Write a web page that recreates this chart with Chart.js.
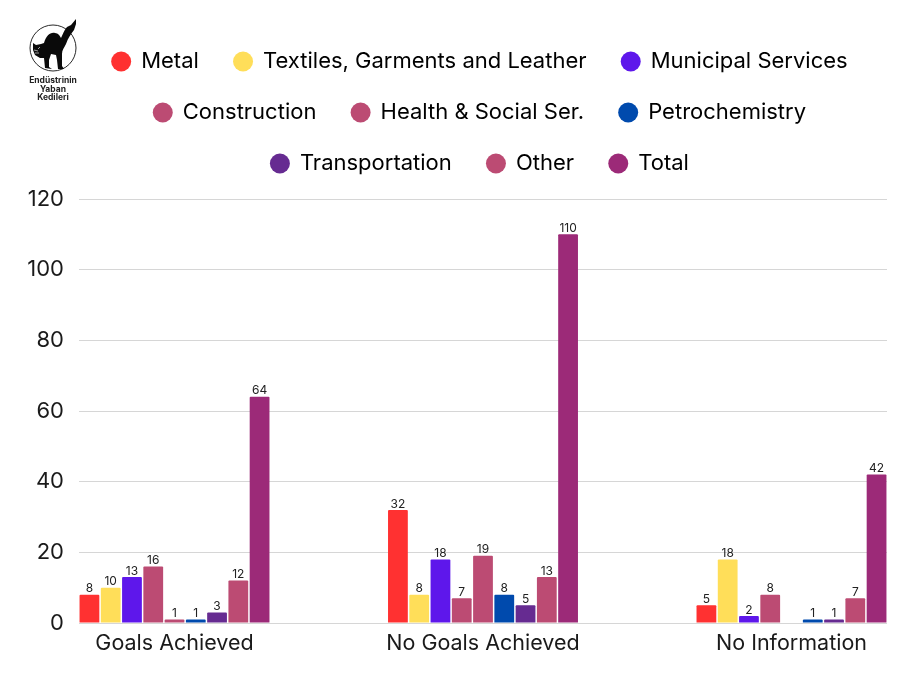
<!DOCTYPE html>
<html><head><meta charset="utf-8">
<script src="https://cdn.jsdelivr.net/npm/chart.js@4"></script>
<style>
html,body{margin:0;padding:0;background:#fff;width:910px;height:683px;overflow:hidden}
#wrap{position:relative;width:910px;height:683px}
canvas{position:absolute;left:0;top:0}
#logo{position:absolute;left:22px;top:16px;width:62px;text-align:center;font:700 8.5px/8.5px Inter,"Liberation Sans",sans-serif;color:#222}
#logo svg{display:block;position:absolute;left:0;top:0}
#logo div{position:absolute;left:0;right:0;top:60px}
</style></head><body><div id="wrap">
<canvas id="c" width="910" height="683"></canvas>
<div id="logo"><svg width="62" height="60" viewBox="22 16 62 60"><circle cx="53" cy="48" r="23" fill="#fff" stroke="#111" stroke-width="0.9"/><path fill="#0a0a0a" d="M33 43L36 45L41 44L44 43C46 36 50 32 55 33C58 33 60 36 61 38C63 34 64 30 67 27L71 25L76 19L76 24L74 30C71 34 68 38 66 44C64 48 62 50 62 54L62 66L64 69L58 69L57 60L56 55L51 54L49 60L49 67L52 69L45 68L44 58L40 58L35 55L33 50Z"/><path fill="none" stroke="#fff" stroke-width="0.6" d="M34 50L38 51M35 53L39 53M40 47L38 49"/></svg><div>Endüstrinin<br>Yaban<br>Kedileri</div></div>
</div>
<script>
const categories = ["Goals Achieved","No Goals Achieved","No Information"];
const metal = [8,32,5];
const textiles = [10,8,18];
const municipal = [13,18,2];
const construction = [16,7,8];
const health = [1,19,null];
const petrochemistry = [1,8,1];
const transportation = [3,5,1];
const other = [12,13,7];
const total = [64,110,42];
const yTicks = [0,20,40,60,80,100,120];
const seriesNames = ["Metal","Textiles, Garments and Leather","Municipal Services","Construction","Health & Social Ser.","Petrochemistry","Transportation","Other","Total"];
const seriesValues = [metal,textiles,municipal,construction,health,petrochemistry,transportation,other,total];
const seriesColors = ["#ff3131","#ffde59","#5e17eb","#bc4b73","#bc4b73","#004aad","#662b91","#bc4b73","#9c2a78"];
const FONT = "Inter, 'Liberation Sans', sans-serif";

const valueLabels = {
  id:'valueLabels',
  afterDatasetsDraw(chart){
    const ctx = chart.ctx;
    ctx.save();
    ctx.font = "12px "+FONT;
    ctx.fillStyle = "#222";
    ctx.textAlign = "center";
    ctx.textBaseline = "bottom";
    chart.data.datasets.forEach((ds,i)=>{
      chart.getDatasetMeta(i).data.forEach((el,j)=>{
        const v = seriesValues[i][j];
        if(v===null) return;
        ctx.fillText(String(v), el.x, el.y);
      });
    });
    ctx.restore();
  }
};

new Chart(document.getElementById('c'),{
  type:'bar',
  data:{datasets:seriesNames.map((n,i)=>({
    label:n,
    data:seriesValues[i].map((v,j)=>({x:j,y:v})),
    backgroundColor:seriesColors[i],
    borderRadius:1,
    barPercentage:0.93,
    categoryPercentage:0.6205
  }))},
  options:{
    responsive:false,animation:false,
    devicePixelRatio:1,
    layout:{padding:{left:28,right:23,top:21.5,bottom:18.2}},
    plugins:{
      tooltip:{enabled:false},
      title:{display:false},
      subtitle:{display:true,text:'',weight:500,position:'top',font:{size:1},padding:{top:8,bottom:5.3}},
      legend:{
        display:true,position:'top',fullSize:false,
        labels:{
          usePointStyle:true,pointStyle:'circle',boxWidth:18,boxHeight:14.14,
          padding:29,color:'#1a1a1a',font:{family:FONT,size:22},
          generateLabels(chart){
            return chart.data.datasets.map((d,i)=>({text:d.label+' ',fillStyle:d.backgroundColor,strokeStyle:d.backgroundColor,lineWidth:0,pointStyle:'circle',hidden:false,datasetIndex:i}));
          }
        }
      }
    },
    scales:{
      x:{
        type:'linear',offset:false,bounds:'data',min:-0.3096,max:2.3096,
        afterBuildTicks(s){s.ticks=categories.map((c,i)=>({value:i}));},
        grid:{display:false,drawTicks:false,offset:false},
        border:{display:false},
        ticks:{autoSkip:false,maxRotation:0,padding:8,color:'#1a1a1a',font:{family:FONT,size:21.5},callback:v=>categories[v]}
      },
      y:{
        min:0,max:120,
        afterBuildTicks(s){s.ticks=yTicks.map(v=>({value:v}));},
        afterFit(s){s.width=51;},
        grid:{color:'#d6d6d6',lineWidth:1,drawTicks:false},
        border:{display:false},
        ticks:{padding:15,color:'#1a1a1a',font:{family:FONT,size:22}}
      }
    }
  },
  plugins:[valueLabels]
});
</script></body></html>
